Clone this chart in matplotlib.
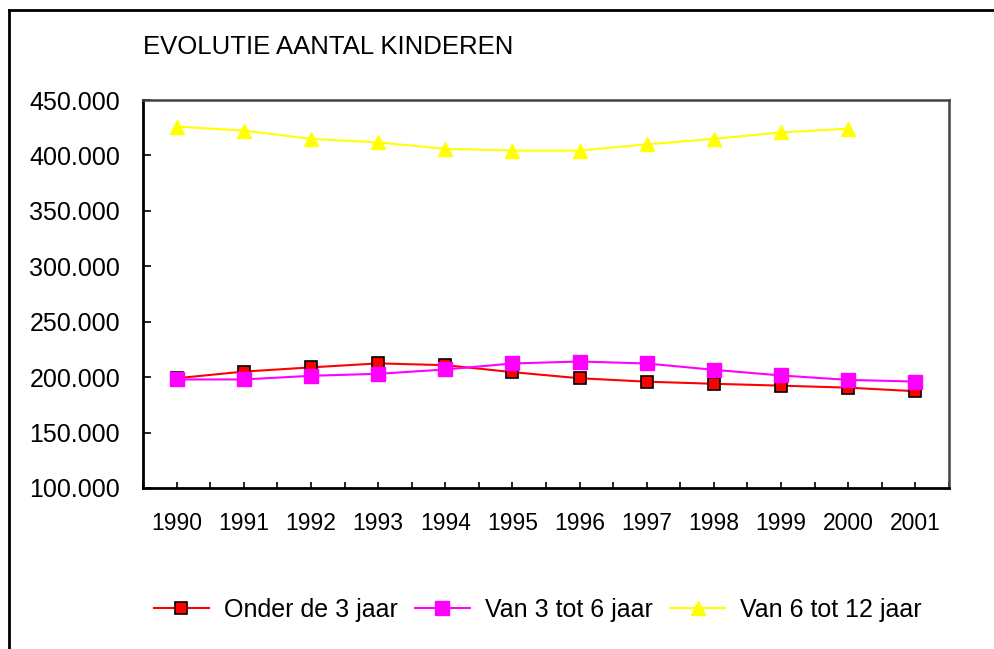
import numpy as np
import matplotlib.pyplot as plt
from matplotlib.lines import Line2D
from matplotlib.ticker import FuncFormatter, MultipleLocator

plt.rcParams['font.family'] = ['Liberation Sans', 'DejaVu Sans']

# data
years = ["1990", "1991", "1992", "1993", "1994", "1995",
         "1996", "1997", "1998", "1999", "2000", "2001"]
onder_3 = [199000, 205000, 208800, 212400, 210800, 204500,
           199000, 195900, 194000, 192300, 190500, 187300]
van_3_tot_6 = [197900, 197900, 201200, 203000, 206900, 212300,
               214100, 212300, 206600, 201500, 197500, 196000]
van_6_tot_12 = [426000, 422400, 415000, 411700, 406000, 404400,
                404400, 410000, 415000, 420700, 424200]

labels = ["Onder de 3 jaar", "Van 3 tot 6 jaar", "Van 6 tot 12 jaar"]

fig = plt.figure(figsize=(9.94, 6.49), dpi=100)
ax = fig.add_axes([0.1439, 0.2481, 0.9547 - 0.1439, 0.8459 - 0.2481])

x = np.arange(len(years))
ax.plot(x, onder_3, color="#ff0000", lw=1.5, marker="s", ms=9,
        mfc="#ff0000", mec="black", mew=1.2, label=labels[0])
ax.plot(x, van_3_tot_6, color="#ff00ff", lw=1.5, marker="s", ms=9.5,
        mfc="#ff00ff", mec="#ff00ff", label=labels[1])
ax.plot(x[:len(van_6_tot_12)], van_6_tot_12, color="#ffff00", lw=1.5,
        marker="^", ms=10, mfc="#ffff00", mec="#ffff00", label=labels[2])

ax.set_xlim(-0.5, len(years) - 0.5)
ax.set_ylim(100000, 450000)
ax.yaxis.set_major_locator(MultipleLocator(50000))
ax.yaxis.set_major_formatter(FuncFormatter(lambda v, p: f"{int(v):,}".replace(",", ".")))
ax.set_xticks(x)
ax.set_xticklabels(years)
ax.set_xticks(np.arange(-0.5, len(years), 1.0), minor=True)

ax.tick_params(axis="y", direction="in", length=6, width=1.2, pad=16.5, labelsize=18)
ax.tick_params(axis="x", which="both", direction="in", length=4.5, width=1.2,
               pad=17, labelsize=16.5)

for side in ["left", "bottom"]:
    ax.spines[side].set_color("black")
    ax.spines[side].set_linewidth(2)
for side in ["top", "right"]:
    ax.spines[side].set_color("#444444")
    ax.spines[side].set_linewidth(1.8)

fig.text(0.144, 0.9276, "EVOLUTIE AANTAL KINDEREN", fontsize=18.5,
         ha="left", va="center")

# outer frame (top and left edges only visible)
fig.add_artist(Line2D([9 / 994, 9 / 994], [0, 1 - 10 / 649],
                      transform=fig.transFigure, color="black", lw=2))
fig.add_artist(Line2D([9 / 994, 1], [1 - 10 / 649, 1 - 10 / 649],
                      transform=fig.transFigure, color="black", lw=2))

fig.legend(loc="center", bbox_to_anchor=(0.541, 0.06), ncol=3, frameon=False,
           fontsize=18, handlelength=2.2, handletextpad=0.6,
           columnspacing=0.7, markerscale=1.0)

fig.savefig("out.png", dpi=100)
